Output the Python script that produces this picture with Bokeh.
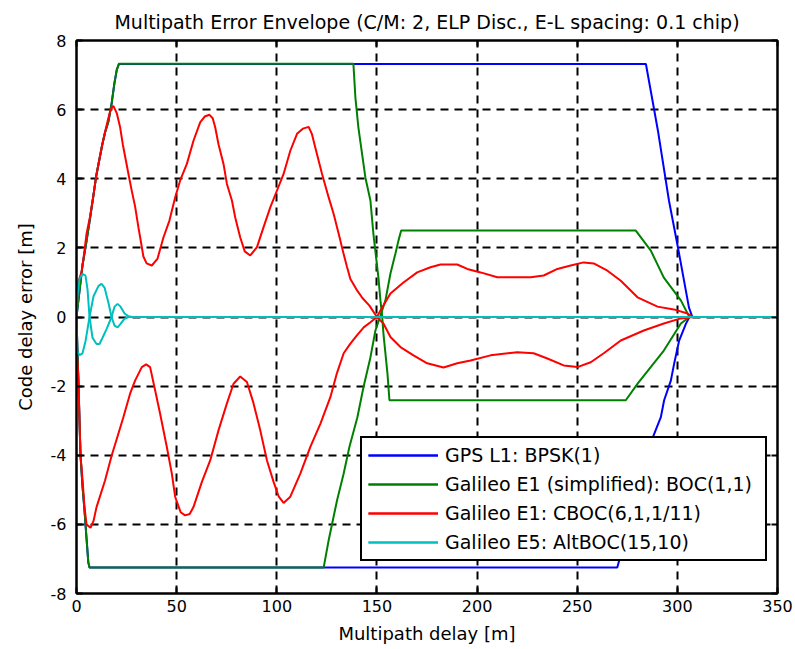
from bokeh.plotting import figure
from bokeh.models import Range1d, LinearAxis, Legend, LegendItem, FixedTicker
from bokeh.embed import file_html
from bokeh.resources import INLINE

TITLE = "Multipath Error Envelope (C/M: 2, ELP Disc., E-L spacing: 0.1 chip)"
X_LABEL = "Multipath delay [m]"
Y_LABEL = "Code delay error [m]"
x_ticks = [0, 50, 100, 150, 200, 250, 300, 350]
y_ticks = [-8, -6, -4, -2, 0, 2, 4, 6, 8]

series_names = [
    "GPS L1: BPSK(1)",
    "Galileo E1 (simplified): BOC(1,1)",
    "Galileo E1: CBOC(6,1,1/11)",
    "Galileo E5: AltBOC(15,10)",
]
series_colors = ["#0000FF", "#008000", "#FF0000", "#00BFBF"]

# GPS L1 BPSK(1)
bpsk_up_d = [0, 3, 4.75, 6.75, 8.4, 9.75, 11.4, 12.9, 14.25, 15.9, 17.6, 18.9, 20.1, 21.2,
             284.3, 290.3, 295.8, 300.3, 305.8, 307.5, 350]
bpsk_up_e = [0, 1.5, 2.1, 2.85, 3.5, 4.05, 4.55, 5.0, 5.34, 5.65, 6.2, 6.75, 7.15, 7.32,
             7.32, 5.39, 3.37, 2.01, 0.27, 0, 0]
bpsk_lo_d = [0, 1, 2, 3, 4, 5, 5.9, 6.5, 270, 287.75, 291.75, 293.4, 296.75, 298.4, 300.9, 304.25, 306, 350]
bpsk_lo_e = [0, -2.0, -4.0, -4.9, -5.6, -6.4, -7.1, -7.25, -7.25, -3.48, -2.9, -2.41, -1.84, -1.35, -0.68, -0.2, 0, 0]

# Galileo E1 BOC(1,1)
boc_up_d = [0, 3, 4.75, 6.75, 8.4, 9.75, 11.4, 12.9, 14.25, 15.9, 17.6, 18.9, 20.1, 21.2,
            138.25, 139.25, 140.75, 144.25, 146.75, 148.25, 150.75, 151.75, 152.6, 153.25, 155.25, 156.25,
            274.25, 280.25, 293.25, 301.75, 306, 350]
boc_up_e = [0, 1.5, 2.1, 2.85, 3.5, 4.05, 4.55, 5.0, 5.34, 5.65, 6.2, 6.75, 7.15, 7.33,
            7.33, 6.35, 5.48, 4.03, 3.37, 2.4, 1.14, 0.48, 0.04, -0.48, -1.63, -2.41,
            -2.41, -1.92, -0.97, -0.19, 0, 0]
boc_lo_d = [0, 1, 2, 3, 4, 5, 5.9, 6.5, 123.4, 125.9, 130.1, 133.4, 136.25, 140.25, 143.25, 146.75,
            149.25, 151.75, 154.25, 156.75, 159.25, 160.75, 162.1, 279.25, 286.75, 293.25, 301.75, 306, 350]
boc_lo_e = [0, -2.0, -4.0, -4.9, -5.6, -6.4, -7.1, -7.25, -7.25, -6.46, -5.3, -4.53, -3.76, -2.9, -2.04, -1.17,
            -0.39, 0.04, 0.48, 1.26, 1.84, 2.21, 2.5, 2.5, 1.92, 1.14, 0.48, 0, 0]

# Galileo E1 CBOC(6,1,1/11)
cboc_up_d = [0, 0.8, 2.5, 3.5, 5, 6.75, 8.4, 9.75, 11.4, 12.9, 14.25, 15.9, 17, 18.4, 20.1, 21.75, 23.1,
             24.75, 26.4, 27.6, 29.25, 30.9, 32.1, 33.4, 35, 37.6, 40.4, 43.4, 46.4, 49.25, 51.75, 55.1,
             58.4, 61.75, 64, 66.4, 68, 69.25, 70.9, 73.4, 75.1, 77.6, 79.25, 81.75, 84, 86.75, 90.1, 93.4,
             96.75, 100.1, 103.4, 106.75, 110.1, 113, 115.9, 117.5, 119.25, 122.6, 125.9, 128.4, 131.75,
             132.6, 135, 136.75, 139.75, 142.75, 146.25, 150,
             151.75, 156.75, 163.25, 170.1, 176.75, 181.75, 190.1, 195.1, 201.75, 210.1, 226.75, 233.25,
             240.1, 246.75, 253.25, 258.25, 265.1, 271.75, 280.1, 290.1, 298.25, 305.1, 308, 350]
cboc_up_e = [0, 1.0, 1.3, 1.7, 2.4, 2.9, 3.5, 4.05, 4.55, 5.0, 5.35, 5.75, 6.0, 6.11, 5.9, 5.5, 5.0,
             4.5, 4.0, 3.65, 3.2, 2.6, 2.2, 1.75, 1.55, 1.49, 1.68, 2.3, 2.79, 3.46, 3.95, 4.43,
             5.1, 5.63, 5.8, 5.85, 5.75, 5.49, 5.0, 4.43, 3.85, 3.37, 2.88, 2.3, 1.9, 1.78, 2.02, 2.6,
             3.17, 3.66, 4.14, 4.81, 5.3, 5.45, 5.5, 5.3, 4.9, 4.14, 3.46, 2.98, 2.21,
             2.0, 1.46, 1.1, 0.8, 0.55, 0.33, 0,
             0.19, 0.68, 1.0, 1.29, 1.44, 1.52, 1.52, 1.39, 1.29, 1.15, 1.15, 1.2,
             1.39, 1.49, 1.58, 1.55, 1.34, 1.05, 0.57, 0.3, 0.22, 0.1, 0, 0]
cboc_lo_d = [0, 0.3, 1, 1.5, 2, 3, 4, 5, 7, 8.5, 10, 14.25, 17.6, 20.9, 23.4, 26.75, 29.25, 32.6, 34.75,
             36.75, 39.25, 41.75, 45.1, 47.6, 49.25, 52, 54.25, 56.5, 58.4, 62.6, 66.75, 70.9, 75.1, 78.4,
             81.75, 85.1, 88.4, 91.75, 95.1, 98.4, 101, 103.4, 106.75, 111.75, 116.75, 121.75, 126.75,
             130, 133.4, 136.75, 140, 143.4, 146.75, 150,
             153.25, 156.75, 161.75, 168.25, 175.1, 183.25, 190.1, 196.75, 206.75, 220.1, 228.25, 235.1,
             243.25, 250.1, 256.75, 263.25, 271.75, 283.25, 293.25, 301.75, 308, 350]
cboc_lo_e = [0, -1.1, -1.8, -3.0, -4.0, -4.7, -5.5, -6.0, -6.1, -5.9, -5.5, -4.73, -4.0, -3.38, -2.9, -2.22,
             -1.84, -1.45, -1.37, -1.45, -2.12, -2.8, -3.76, -4.53, -5.2, -5.65, -5.74, -5.7, -5.5, -4.77,
             -4.15, -3.28, -2.5, -1.93, -1.72, -1.88, -2.5, -3.28, -4.15, -4.77, -5.2, -5.38, -5.2, -4.53,
             -3.76, -3.09, -2.32, -1.63, -1.05, -0.77, -0.53, -0.3, -0.15, 0,
             -0.19, -0.58, -0.87, -1.11, -1.34, -1.46, -1.34, -1.26, -1.11, -1.02, -1.05, -1.2,
             -1.4, -1.45, -1.31, -1.05, -0.68, -0.39, -0.19, -0.04, 0, 0]

# Galileo E5 AltBOC(15,10)
altboc_a_d = [0, 0.5, 1.5, 3, 4.5, 5.5, 6.5, 8, 10, 11.5, 13, 15, 17.5, 19, 20.5, 22, 24, 26, 28, 350]
altboc_a_e = [0, 0.6, 1.1, 1.25, 1.2, 0.8, 0, -0.6, -0.78, -0.78, -0.6, -0.35, 0, 0.3, 0.38, 0.3, 0.1, 0.02, 0, 0]
altboc_b_d = [0, 0.3, 1.5, 3, 4.5, 6.5, 8.5, 11, 12.5, 14, 16, 17.5, 19, 20.5, 22, 24, 26, 350]
altboc_b_e = [0, -1.0, -1.1, -1.05, -0.7, 0, 0.6, 0.9, 0.96, 0.85, 0.4, 0, -0.25, -0.3, -0.2, -0.05, 0, 0]

FONT = "DejaVu Sans"

p = figure(width=795, height=649, output_backend="svg", toolbar_location=None,
           x_range=Range1d(0, 350), y_range=Range1d(-8, 8),
           min_border_left=76, min_border_right=18, min_border_top=39, min_border_bottom=56,
           title=TITLE, background_fill_color="white", border_fill_color="white")

p.title.align = "center"
p.title.text_font = FONT
p.title.text_font_size = "19px"
p.title.text_font_style = "normal"
p.title.text_color = "black"
p.title.standoff = 16

p.outline_line_color = "black"
p.outline_line_width = 2

for ax in [p.xaxis[0], p.yaxis[0]]:
    ax.axis_line_width = 2
    ax.axis_line_color = "black"
    ax.major_tick_in = 6
    ax.major_tick_out = 0
    ax.major_tick_line_width = 2
    ax.minor_tick_in = 0
    ax.minor_tick_out = 0
    ax.major_label_text_font = FONT
    ax.major_label_text_font_size = "16px"
    ax.major_label_text_color = "black"
    ax.axis_label_text_font = FONT
    ax.axis_label_text_font_size = "18px"
    ax.axis_label_text_font_style = "normal"
    ax.axis_label_text_color = "black"

p.xaxis[0].ticker = FixedTicker(ticks=x_ticks)
p.yaxis[0].ticker = FixedTicker(ticks=y_ticks)
p.xaxis[0].axis_label = X_LABEL
p.yaxis[0].axis_label = Y_LABEL
p.xaxis[0].major_label_standoff = 6
p.xaxis[0].axis_label_standoff = 8
p.yaxis[0].major_label_standoff = 10
p.yaxis[0].axis_label_standoff = 12
p.yaxis[0].major_label_overrides = {v: str(v) for v in y_ticks}

for loc, ticks in [("above", x_ticks), ("right", y_ticks)]:
    ax = LinearAxis(ticker=FixedTicker(ticks=ticks), major_label_text_font_size="1px",
                    major_label_text_color=None,
                    major_label_standoff=0, major_tick_in=6, major_tick_out=0,
                    minor_tick_in=0, minor_tick_out=0, axis_line_width=2,
                    major_tick_line_width=2, axis_line_color="black")
    p.add_layout(ax, loc)

p.xgrid.ticker = FixedTicker(ticks=x_ticks)
p.ygrid.ticker = FixedTicker(ticks=y_ticks)
for g in [p.xgrid[0], p.ygrid[0]]:
    g.grid_line_color = "black"
    g.grid_line_width = 2
    g.grid_line_dash = "8 6"
    g.grid_line_alpha = 1.0

curves = [
    [(bpsk_up_d, bpsk_up_e), (bpsk_lo_d, bpsk_lo_e)],
    [(boc_up_d, boc_up_e), (boc_lo_d, boc_lo_e)],
    [(cboc_up_d, cboc_up_e), (cboc_lo_d, cboc_lo_e)],
    [(altboc_a_d, altboc_a_e), (altboc_b_d, altboc_b_e)],
]

items = []
for name, color, pair in zip(series_names, series_colors, curves):
    rs = [p.line(d, e, line_color=color, line_width=2) for d, e in pair]
    items.append(LegendItem(label=name, renderers=rs))

legend = Legend(items=items, location=(284, 32), margin=0, padding=6, spacing=7,
                glyph_width=70, glyph_height=22, label_height=22, label_standoff=7,
                label_width=314, label_text_font=FONT, label_text_font_size="19px",
                label_text_color="black", border_line_color="black", border_line_width=2,
                border_line_alpha=1.0,
                background_fill_color="white", background_fill_alpha=1.0)
p.add_layout(legend)

open("out.html", "w").write(file_html(p, INLINE))
